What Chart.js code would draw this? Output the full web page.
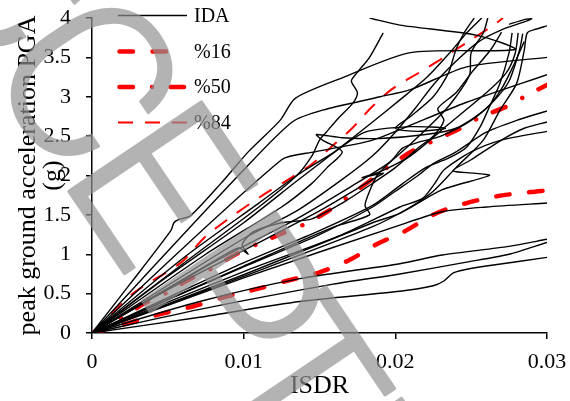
<!DOCTYPE html>
<html><head><meta charset="utf-8">
<script src="https://cdn.jsdelivr.net/npm/chart.js@4.4.1/dist/chart.umd.min.js"></script>
<style>html,body{margin:0;padding:0;background:#fff;overflow:hidden}</style>
</head><body>
<canvas id="c" width="570" height="401"></canvas>
<script>
// ---------- DATA ----------
const xTickLabels = ['0','0.01','0.02','0.03'];
const yTickLabels = ['0','0.5','1','1.5','2','2.5','3','3.5','4'];
const legendLabels = ['IDA','%16','%50','%84'];
const xTitle = 'ISDR';
const yTitle = ['peak ground acceleration PGA','(g)'];
const watermarkLetters = ['A','C','C','E','P','T','E','D'];

// percentile curves [ISDR, PGA]
const p16 = [[0,0],[0.0023,0.12],[0.0047,0.25],[0.0067,0.34],[0.0088,0.46],[0.0109,0.56],[0.0128,0.66],[0.015,0.77],[0.017,0.93],[0.0188,1.13],[0.0206,1.29],[0.0227,1.52],[0.0247,1.65],[0.0268,1.74],[0.0289,1.79],[0.030,1.81]];
const p50 = [[0,0],[0.002,0.2],[0.0034,0.37],[0.0049,0.51],[0.0063,0.67],[0.0079,0.82],[0.0094,0.99],[0.0109,1.13],[0.0125,1.26],[0.014,1.38],[0.0155,1.54],[0.0169,1.73],[0.0183,1.93],[0.0196,2.12],[0.0212,2.32],[0.0224,2.43],[0.0242,2.59],[0.0256,2.74],[0.0274,2.88],[0.0286,3.01],[0.030,3.15]];
const p84 = [[0,0],[0.0027,0.5],[0.0059,0.9],[0.0074,1.21],[0.009,1.45],[0.0111,1.73],[0.0127,1.92],[0.0144,2.13],[0.0157,2.35],[0.0171,2.59],[0.0184,2.86],[0.0198,3.1],[0.0216,3.31],[0.0232,3.5],[0.0248,3.7],[0.0264,3.9],[0.0271,4.0]];

// individual IDA curves [ISDR, PGA]
const ida01 = [[0,0],[0.0071,0.2],[0.0137,0.4],[0.0203,0.53],[0.0225,0.6],[0.0232,0.66],[0.0238,0.76],[0.0245,0.8],[0.026,0.85],[0.030,0.96]];
const ida02 = [[0,0],[0.0071,0.3],[0.0159,0.62],[0.0203,0.75],[0.0247,0.9],[0.0275,1.0],[0.030,1.15]];
const ida03 = [[0,0],[0.0071,0.4],[0.0137,0.69],[0.0203,0.88],[0.0231,0.99],[0.0275,1.1],[0.030,1.19]];
const ida04 = [[0,0],[0.010,0.7],[0.0203,1.37],[0.0231,1.54],[0.026,1.6],[0.030,1.65]];
const ida05 = [[0,0],[0.010,0.78],[0.0165,1.25],[0.0203,1.6],[0.0218,1.71],[0.0226,1.9],[0.0232,2.07],[0.025,2.3],[0.027,2.45],[0.030,2.56]];
const ida06 = [[0,0],[0.010,0.74],[0.0185,1.4],[0.0203,1.52],[0.0231,1.82],[0.0262,2.0],[0.0252,2.03],[0.0238,2.06],[0.025,2.2],[0.027,2.45],[0.0285,2.6],[0.030,2.68]];
const ida07 = [[0,0],[0.0095,0.8],[0.015,1.25],[0.0185,1.6],[0.020,1.8],[0.0215,2.0],[0.0225,2.15],[0.024,2.3],[0.026,2.55],[0.028,2.7],[0.030,2.82]];
const ida08 = [[0,0],[0.005,0.55],[0.010,1.05],[0.015,1.55],[0.0185,1.95],[0.0192,2.03],[0.0178,1.97],[0.019,2.05],[0.021,2.25],[0.0235,2.65],[0.026,3.05],[0.0273,3.3],[0.0279,3.55],[0.0281,3.81]];
const ida09 = [[0,0],[0.0025,0.62],[0.0052,1.3],[0.0054,1.4],[0.0057,1.44],[0.0065,1.49],[0.0085,1.9],[0.0103,2.3],[0.0124,2.7],[0.0134,2.98],[0.0165,3.24],[0.021,3.56],[0.0279,3.6],[0.0254,3.78],[0.0203,3.91],[0.0183,4.0]];
const ida10 = [[0,0],[0.0099,2.05],[0.0132,2.68],[0.0152,2.83],[0.019,3.0],[0.021,3.09],[0.0247,3.38],[0.030,3.5]];
const ida11 = [[0,0],[0.0125,2.2],[0.0147,2.3],[0.0185,2.45],[0.022,2.72],[0.0247,2.93],[0.030,3.28]];
const ida12 = [[0,0],[0.006,0.88],[0.011,1.6],[0.0135,2.0],[0.0145,2.25],[0.015,2.45],[0.0154,2.54],[0.0163,2.74],[0.0172,2.92],[0.0175,3.05],[0.0171,3.2],[0.0175,3.31],[0.0183,3.5],[0.0192,3.81]];
const ida13 = [[0,0],[0.005,0.72],[0.010,1.4],[0.0135,1.93],[0.016,2.3],[0.0185,2.68],[0.0203,2.96],[0.0221,3.25],[0.0236,3.56],[0.0247,3.81],[0.0257,4.0]];
const ida14 = [[0,0],[0.0085,0.95],[0.0135,1.45],[0.017,1.85],[0.0195,2.15],[0.021,2.4],[0.0231,2.79],[0.024,3.0],[0.0249,3.28],[0.025,3.56],[0.0258,3.81],[0.0261,4.0]];
const ida15 = [[0,0],[0.0095,0.85],[0.015,1.3],[0.0185,1.62],[0.0205,1.9],[0.022,2.1],[0.0235,2.22],[0.0247,2.36],[0.0256,2.62],[0.0262,2.87],[0.0269,3.17],[0.0275,3.56],[0.0277,3.81]];
const ida16 = [[0,0],[0.010,0.72],[0.0185,1.35],[0.021,1.6],[0.0225,1.8],[0.024,2.1],[0.0258,2.45],[0.0269,2.83],[0.028,3.17],[0.0285,3.59],[0.0287,3.81],[0.0293,3.86],[0.030,3.9]];
const ida17 = [[0,0],[0.010,1.2],[0.0135,1.55],[0.0165,1.95],[0.0185,2.25],[0.020,2.55],[0.0213,2.85],[0.0225,3.15],[0.024,3.45],[0.0255,3.7],[0.027,3.85],[0.0285,3.95],[0.029,3.99],[0.0285,3.98],[0.0275,3.92]];
const ida18 = [[0,0],[0.0088,1.0],[0.0097,1.08],[0.0103,1.0],[0.0099,1.12],[0.0106,1.28],[0.0125,1.4],[0.0145,1.45],[0.0165,1.65],[0.0185,1.9],[0.020,2.1],[0.0215,2.35],[0.0225,2.5],[0.0232,2.7],[0.0228,2.85],[0.024,3.05],[0.025,3.3],[0.0263,3.6],[0.027,3.82]];
const ida19 = [[0,0],[0.0075,1.0],[0.0125,1.6],[0.0145,1.9],[0.0155,2.1],[0.0165,2.3],[0.0152,2.45],[0.0148,2.52],[0.0165,2.48],[0.019,2.47],[0.022,2.52],[0.024,2.6],[0.026,2.85],[0.027,3.1],[0.0278,3.4],[0.0285,3.7]];
const ida20 = [[0,0],[0.006,0.95],[0.011,1.65],[0.0135,2.0],[0.016,2.3],[0.018,2.55],[0.021,2.62],[0.0233,2.6],[0.0215,2.56],[0.020,2.6],[0.021,2.75],[0.0225,3.0],[0.0235,3.3],[0.024,3.6],[0.0245,3.8],[0.0252,4.0]];
const ida21 = [[0,0],[0.010,0.85],[0.016,1.35],[0.0183,1.5],[0.018,1.62],[0.0183,1.8],[0.0188,2.0],[0.0198,2.2],[0.0205,2.35],[0.0215,2.42],[0.023,2.5],[0.025,2.7],[0.0265,2.95],[0.0275,3.2],[0.0282,3.6],[0.0284,3.8]];
const idaCurves = [ida01,ida02,ida03,ida04,ida05,ida06,ida07,ida08,ida09,ida10,ida11,ida12,ida13,ida14,ida15,ida16,ida17,ida18,ida19,ida20,ida21];

// ---------- STYLES ----------
const SERIF = '"Liberation Serif","Times New Roman",serif';
const RED = '#ff0000';
const dash16 = [13.5,19.5];
const dash50 = [13.5,19,0.01,18.5];
const dash84 = [15,12];

const toPts = a => a.map(p => ({x:p[0], y:p[1]}));

const datasets = idaCurves.map(c => ({
  data: toPts(c), showLine: true, borderColor: '#000', borderWidth: 1.4,
  pointRadius: 0, tension: 0.25, fill: false
}));
datasets.push({data: toPts(p16), showLine:true, borderColor:RED, borderWidth:4.5, borderDash:dash16, borderCapStyle:'round', pointRadius:0, tension:0.3});
datasets.push({data: toPts(p50), showLine:true, borderColor:RED, borderWidth:4.5, borderDash:dash50, borderCapStyle:'round', pointRadius:0, tension:0.3});
datasets.push({data: toPts(p84), showLine:true, borderColor:RED, borderWidth:2, borderDash:dash84, borderCapStyle:'butt', pointRadius:0, tension:0.3});

function drawWatermark(ctx) {
  const th = 56 * Math.PI / 180;
  const off = document.createElement('canvas');
  off.width = 570; off.height = 401;
  const o = off.getContext('2d');
  o.font = '300 100px Roboto';
  const capRatio = o.measureText('E').actualBoundingBoxAscent / 100;
  const fs = 162 / capRatio;
  o.font = '300 ' + fs + 'px Roboto';
  const m = ch => o.measureText(ch);
  const adv = ch => m(ch).width;
  const stem = 0.055 * fs;
  const mC = m('C'), mE = m('E'), mP = m('P'), mT = m('T');
  const xC = 117 - (mC.actualBoundingBoxRight - mC.actualBoundingBoxLeft) / 2;
  const xE = 203 + mE.actualBoundingBoxLeft - stem / 2;
  const xP = 335 + mP.actualBoundingBoxLeft - stem / 2;
  const xT = 481 - (mT.actualBoundingBoxRight - mT.actualBoundingBoxLeft) / 2;
  const s = ((xE - xC - adv('C')) + (xP - xE - adv('E')) + (xT - xP - adv('P'))) / 3;
  const xC1 = xC - adv('C') - s;
  const xA = xC1 - adv('A') - s;
  const xE2 = xT + adv('T') + s;
  const xD = xE2 + adv('E') + s;
  const xs = [xA, xC1, xC, xE, xP, xT, xE2, xD];
  const baseY = 50;
  o.rotate(th);
  o.fillStyle = 'rgb(145,145,145)';
  o.strokeStyle = 'rgb(145,145,145)';
  o.lineWidth = 3; o.lineJoin = 'round';
  o.textBaseline = 'alphabetic'; o.textAlign = 'left';
  watermarkLetters.forEach((ch, i) => {
    o.fillText(ch, xs[i], baseY);
    o.strokeText(ch, xs[i], baseY);
  });
  ctx.save();
  ctx.setTransform(1, 0, 0, 1, 0, 0);
  ctx.globalAlpha = 0.69;
  ctx.drawImage(off, 0, 0);
  ctx.restore();
}

const legendPlugin = {
  id: 'customLegend',
  afterDraw(chart) {
    const ctx = chart.ctx;
    const rows = [15.5, 51.5, 87, 122.5];
    const styles = [
      {c:'#000', w:1.5, d:[], cap:'butt'},
      {c:RED, w:4.5, d:dash16, cap:'round'},
      {c:RED, w:4.5, d:dash50, cap:'round'},
      {c:RED, w:2, d:dash84, cap:'butt'}
    ];
    ctx.save();
    rows.forEach((y, i) => {
      const st = styles[i];
      ctx.beginPath();
      ctx.setLineDash(st.d); ctx.lineCap = st.cap; ctx.lineWidth = st.w; ctx.strokeStyle = st.c;
      const x0 = st.cap === 'round' ? 119.5 : 118;
      const x1 = st.cap === 'round' ? 185.5 : 187;
      ctx.moveTo(x0, y); ctx.lineTo(x1, y); ctx.stroke();
      ctx.setLineDash([]);
      ctx.fillStyle = '#000'; ctx.font = '20px ' + SERIF;
      ctx.textBaseline = 'middle'; ctx.textAlign = 'left';
      ctx.fillText(legendLabels[i], 194, y + 1);
    });
    ctx.restore();
    drawWatermark(ctx);
  }
};

new Chart(document.getElementById('c'), {
  type: 'scatter',
  data: { datasets },
  options: {
    responsive: false, animation: false, devicePixelRatio: 1,
    layout: { padding: { top: 18, right: 23, bottom: 0, left: 0 } },
    plugins: { legend: { display: false }, tooltip: { enabled: false } },
    scales: {
      x: {
        type: 'linear', min: 0, max: 0.03,
        ticks: { stepSize: 0.01, color: '#000', padding: 10, font: { family: SERIF, size: 22 },
          callback: v => xTickLabels[Math.round(v * 100)] },
        grid: { display: true, drawOnChartArea: false, drawTicks: true, tickLength: 6, color: '#000', lineWidth: 1.5 },
        border: { display: true, color: '#000', width: 1.5 },
        title: { display: true, text: xTitle, color: '#000', font: { family: SERIF, size: 26, lineHeight: 1.1 }, padding: { top: 0, bottom: 0.7 } },
        afterFit: s => { s.height = 68; s.paddingLeft = 0; s.paddingRight = 0; }
      },
      y: {
        type: 'linear', min: 0, max: 4,
        ticks: { stepSize: 0.5, color: '#000', padding: 15, font: { family: SERIF, size: 22 },
          callback: v => yTickLabels[Math.round(v * 2)] },
        grid: { display: true, drawOnChartArea: false, drawTicks: true, tickLength: 6, color: '#000', lineWidth: 1.5 },
        border: { display: true, color: '#000', width: 1.5 },
        title: { display: true, text: yTitle, color: '#000', font: { family: SERIF, size: 26, lineHeight: 25/26 }, padding: { top: 15.5, bottom: 0 } },
        afterFit: s => { s.width = 92; s.paddingTop = 0; s.paddingBottom = 0; }
      }
    }
  },
  plugins: [legendPlugin]
});
</script>
</body></html>
